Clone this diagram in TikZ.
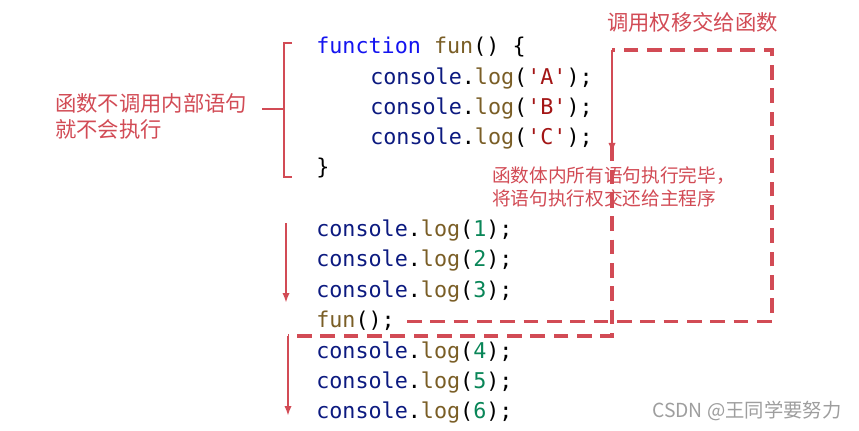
\documentclass[tikz,border=0pt]{standalone}
\usepackage{fontspec}
\newfontfamily\cjk{Noto Sans CJK SC}
\newfontfamily\codemono{DejaVu Sans Mono}
\usetikzlibrary{arrows.meta,positioning,calc}

\definecolor{annored}{HTML}{D24B55}
\definecolor{kwblue}{HTML}{1414F0}
\definecolor{objblue}{HTML}{0C1A80}
\definecolor{fnbrown}{HTML}{7A5E26}
\definecolor{strred}{HTML}{A31515}
\definecolor{numgreen}{HTML}{098658}
\newcommand{\jskw}[1]{\textcolor{kwblue}{#1}}
\newcommand{\jsobj}[1]{\textcolor{objblue}{#1}}
\newcommand{\jsfn}[1]{\textcolor{fnbrown}{#1}}
\newcommand{\jsstr}[1]{\textcolor{strred}{#1}}
\newcommand{\jsnum}[1]{\textcolor{numgreen}{#1}}

\tikzset{
  codeline/.style={anchor=base west,inner sep=0pt,text height=12pt,text depth=3.5pt,
    font=\codemono\fontsize{16.3}{20}\selectfont},
  note/.style={text=annored,inner sep=0pt,align=left},
  bracketline/.style={annored,line width=2.2pt},
  flowarrow/.style={annored,line width=1.8pt,-{Latex[length=7.5pt,width=5.5pt]}},
  flowdash/.style={annored,line width=2.5pt,dash pattern=on 11pt off 6.5pt}
}

\begin{document}
\begin{tikzpicture}[x=0.75pt,y=-0.75pt]
  \fill[white] (0,0) rectangle (859,431); % 背景
  \useasboundingbox (0,0) rectangle (859,431);

  % 函数定义
  \node[codeline] (fnhead) at (316,54) {\jskw{function} \jsfn{fun}() \{};
  \node[codeline] (la) at (370,85) {\jsobj{console}.\jsfn{log}(\jsstr{'A'});};
  \node[codeline] (lb) at (370,115) {\jsobj{console}.\jsfn{log}(\jsstr{'B'});};
  \node[codeline] (lc) at (370,145) {\jsobj{console}.\jsfn{log}(\jsstr{'C'});};
  \node[codeline] (fnclose) at (316,175) {\}};

  % 主程序
  \node[codeline] (l1) at (316,236) {\jsobj{console}.\jsfn{log}(\jsnum{1});};
  \node[codeline] (l2) at (316,266) {\jsobj{console}.\jsfn{log}(\jsnum{2});};
  \node[codeline] (l3) at (316,297) {\jsobj{console}.\jsfn{log}(\jsnum{3});};
  \node[codeline] (call) at (316,327) {\jsfn{fun}();};
  \node[codeline] (l4) at (316,358) {\jsobj{console}.\jsfn{log}(\jsnum{4});};
  \node[codeline] (l5) at (316,388) {\jsobj{console}.\jsfn{log}(\jsnum{5});};
  \node[codeline] (l6) at (316,418) {\jsobj{console}.\jsfn{log}(\jsnum{6});};

  % 说明文字
  \node[note,anchor=west,font=\cjk\fontsize{16}{19.5}\selectfont] (leftnote) at (55,116)
    {函数不调用内部语句\\就不会执行};
  \node[note,anchor=west,font=\cjk\fontsize{16}{19.5}\selectfont] (topnote) at (607,22)
    {调用权移交给函数};
  \node[note,anchor=west,font=\cjk\fontsize{14}{17.25}\selectfont] (backnote) at (492,186.5)
    {函数体内所有语句执行完毕，\\将语句执行权交还给主程序};
  \node[anchor=west,inner sep=0pt,text=black!38,font=\cjk\fontsize{14.5}{17}\selectfont] (mark) at (652,411)
    {CSDN @王同学要努力};

  % 左侧括号
  \coordinate (brtop) at (284,43);
  \coordinate (brbot) at (284,177);
  \coordinate (brmid) at (284,109);
  \coordinate (brtick) at (262,109);
  \draw[bracketline] (292,43) -- (brtop) -- (brbot) -- (292,177); % 竖线和上下短横
  \draw[bracketline] (brmid) -- (brtick); % 中间短横

  % 调用的走向
  \coordinate (boxtl) at (612,50);
  \coordinate (boxtr) at (772,50);
  \coordinate (boxbr) at (772,320);
  \coordinate (calltip) at (612,153);
  \draw[flowdash] ([xshift=9pt]call.east) -- (call.east -| boxbr) -- (boxtr) -- (boxtl); % 调用后跳到函数
  \draw[flowarrow] (boxtl) -- (calltip); % 进入函数体

  % 返回的走向
  \coordinate (retdown) at (612,336);
  \coordinate (retleft) at (288,336);
  \coordinate (mainend) at (288,416);
  \draw[flowdash] ([yshift=5]calltip) -- (retdown) -- (retleft); % 交还主程序
  \draw[flowarrow] (retleft) -- (mainend); % 继续执行后面的语句
  \draw[flowarrow] (286,223) -- (286,303); % 先执行前三句
\end{tikzpicture}
\end{document}
